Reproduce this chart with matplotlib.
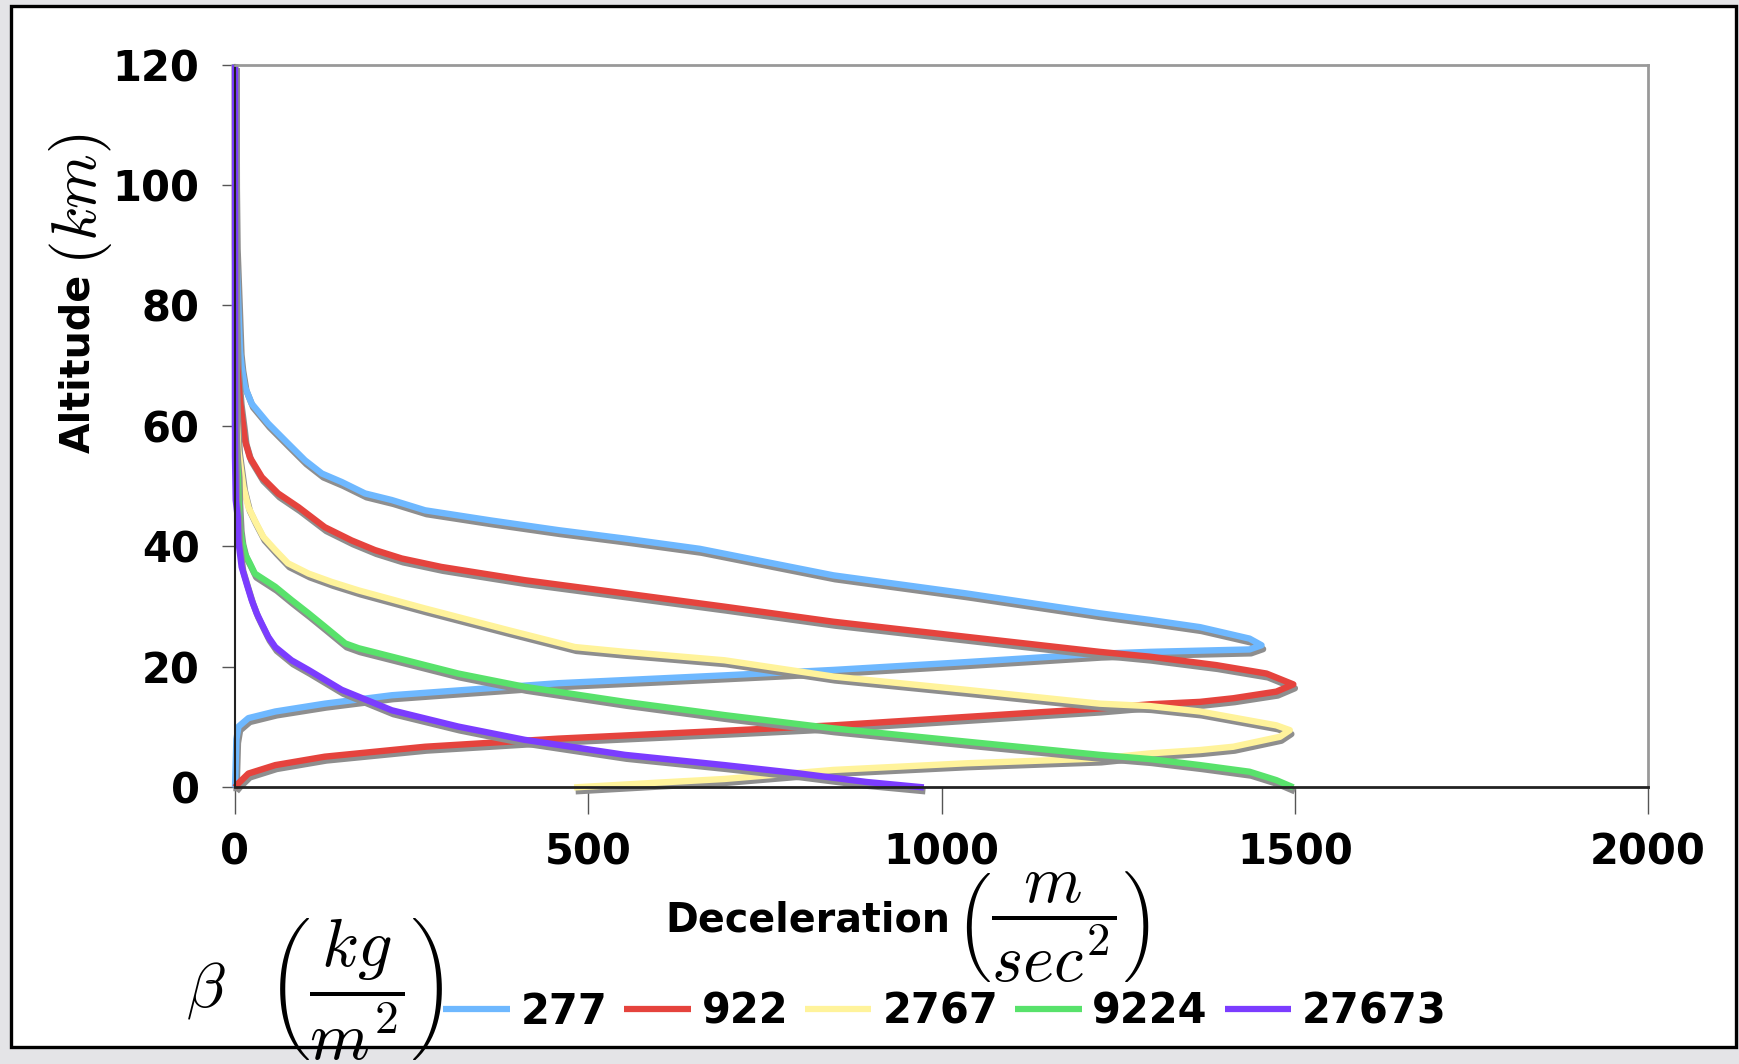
import matplotlib
matplotlib.use("Agg")
import matplotlib.pyplot as plt
import matplotlib.patheffects as pe
from matplotlib.patches import Rectangle

plt.rcParams['mathtext.fontset'] = 'cm'
plt.rcParams['font.family'] = ['DejaVu Sans']

# ---------------- data (deceleration m/s^2, altitude km) ----------------
labels = ["277", "922", "2767", "9224", "27673"]
colors = ["#6EB8FF", "#E5433D", "#FFF39B", "#58E26B", "#7B3CFF"]

dec_277 = [0, 0.5, 1.5, 4.7, 7, 9.4, 14, 23.6, 47, 75, 99, 123, 151, 184, 222, 269, 363,
           458, 552, 658, 847, 1035, 1224, 1295, 1366, 1436, 1453, 1436, 1366, 1295, 1224,
           1035, 847, 693, 458, 222, 127, 57, 19, 5, 2, 1, 0]
alt_277 = [120, 100, 90, 80, 72.5, 69.8, 66.5, 63.7, 60.4, 57.1, 54.3, 52.1, 50.7, 48.8,
           47.7, 46.0, 44.3, 42.7, 41.3, 39.6, 35.2, 32.2, 28.9, 27.8, 26.6, 24.7, 23.6,
           22.9, 22.7, 22.5, 22.2, 20.8, 19.5, 18.6, 17.3, 15.3, 13.9, 12.6, 11.5, 10.1,
           8, 4, 0]

dec_922 = [0, 0, 1, 3, 7, 11.8, 14, 21, 38, 61, 90, 127, 165, 198, 236, 292, 410, 552, 693,
           847, 1035, 1224, 1295, 1389, 1460, 1498, 1474, 1413, 1366, 1295, 1224, 1035, 847,
           693, 458, 269, 127, 57, 19, 5, 0]
alt_922 = [120, 90, 78, 70, 64.2, 59.8, 57.6, 54.8, 51.5, 48.8, 46.5, 43.2, 41.0, 39.4, 38.0,
           36.6, 34.4, 32.2, 30.0, 27.5, 25.0, 22.5, 21.7, 20.3, 18.9, 17.1, 15.9, 14.8,
           14.2, 13.8, 13.1, 11.7, 10.3, 9.4, 8.1, 6.75, 5.1, 3.7, 2.3, 0.7, 0]

dec_2767 = [0, 0, 2, 4.7, 11.8, 19, 28, 40, 57, 75, 104, 137, 175, 269, 387, 481, 552, 693,
            847, 1035, 1224, 1295, 1366, 1474, 1493, 1479, 1413, 1366, 1295, 1224, 1035, 847,
            693, 600, 480]
alt_2767 = [120, 70, 62, 56.0, 49.9, 46.5, 44.3, 41.6, 39.4, 37.2, 35.5, 34.1, 32.7, 29.7,
            26.1, 23.3, 22.5, 21.1, 18.4, 16.2, 13.9, 13.5, 12.6, 10.3, 9.5, 8.4, 6.75, 6.2,
            5.65, 4.8, 4.0, 2.9, 1.4, 0.8, 0]

dec_9224 = [0, 0, 2, 4, 5, 7, 9.4, 14, 21, 28, 57, 80, 104, 127, 156, 175, 222, 316, 410,
            552, 693, 847, 1035, 1224, 1295, 1366, 1436, 1474, 1498]
alt_9224 = [120, 60, 55, 52.1, 47.7, 43.2, 41.0, 38.8, 37.2, 35.5, 33.3, 31.1, 28.9, 26.7,
            23.9, 23.1, 21.7, 18.9, 16.7, 14.2, 12.0, 9.8, 7.6, 5.4, 4.7, 3.7, 2.6, 1.2, 0]

dec_27673 = [0, 0, 1, 3.8, 4.7, 9.4, 16.5, 23.6, 30.7, 37.7, 47, 57, 80, 104, 151, 222, 316,
             410, 552, 693, 800, 894, 975]
alt_27673 = [120, 55, 47.7, 44.9, 41.0, 36.6, 33.8, 31.1, 28.9, 27.2, 25.0, 23.3, 21.1, 19.5,
             16.2, 12.8, 10.1, 7.9, 5.4, 3.7, 2.3, 0.9, 0]

series = [(dec_277, alt_277), (dec_922, alt_922), (dec_2767, alt_2767),
          (dec_9224, alt_9224), (dec_27673, alt_27673)]

xticks = [0, 500, 1000, 1500, 2000]
yticks = [0, 20, 40, 60, 80, 100, 120]

# ---------------- figure ----------------
W, H = 1739, 1064
fig = plt.figure(figsize=(W / 100, H / 100), dpi=100)
fig.patch.set_facecolor("#E4E4E7")

frame = Rectangle((11 / W, 1 - 1047 / H), (1736 - 11) / W, (1047 - 6) / H,
                  transform=fig.transFigure, facecolor="white", edgecolor="black",
                  linewidth=2.4, zorder=-5)
fig.add_artist(frame)

ax = fig.add_axes([235 / W, 1 - 787.4 / H, (1648 - 235) / W, (787.4 - 64.5) / H])
ax.set_facecolor("white")

shadow = [pe.SimpleLineShadow(offset=(1.1, -2.8), shadow_color="#8E8E8E", alpha=1.0),
          pe.Normal()]
for (d, a), c, lab in zip(series, colors, labels):
    ax.plot(d, a, color=c, lw=4.6, label=lab, clip_on=False,
            solid_capstyle="butt", solid_joinstyle="round", path_effects=shadow)

ax.set_xlim(0, 2000)
ax.set_ylim(0, 120)
ax.set_xticks(xticks)
ax.set_yticks(yticks)
ax.set_xticklabels([str(t) for t in xticks], fontsize=30, fontweight="bold")
ax.set_yticklabels([str(t) for t in yticks], fontsize=30, fontweight="bold")
ax.tick_params(axis="x", length=19.5, width=1.0, color="#555555", pad=12)
ax.tick_params(axis="y", length=9.5, width=1.0, color="#555555", pad=16)

ax.spines["left"].set_color("#222222")
ax.spines["left"].set_linewidth(1.5)
ax.spines["bottom"].set_color("#222222")
ax.spines["bottom"].set_linewidth(2.0)
for s in ("top", "right"):
    ax.spines[s].set_color("#999999")
    ax.spines[s].set_linewidth(2.0)

# axis labels
fig.text(78 / W, 1 - 363 / H, "Altitude", rotation=90, fontsize=28.5, fontweight="bold",
         ha="center", va="center")
fig.text(80 / W, 1 - 199 / H, r"$(km)$", rotation=90, fontsize=45,
         ha="center", va="center")

fig.text(950 / W, 1 - 921 / H, "Deceleration", fontsize=28.5, fontweight="bold",
         ha="right", va="center")
fig.text(955 / W, 1 - 926 / H, r"$\left(\dfrac{m}{sec^2}\right)$", fontsize=48,
         ha="left", va="center")

# legend title-like label
fig.text(206 / W, 1 - 990 / H, r"$\beta$", fontsize=46, ha="center", va="center")
fig.text(355 / W, 1 - 990 / H, r"$\left(\dfrac{kg}{m^2}\right)$", fontsize=49,
         ha="center", va="center")

leg = fig.legend(loc="center left", bbox_to_anchor=(443 / W, 1 - 1012 / H), ncol=5,
                 frameon=False, prop={"size": 30, "weight": "bold"},
                 handlelength=1.6, handletextpad=0.26, columnspacing=0.4,
                 borderpad=0, borderaxespad=0)
for ln in leg.get_lines():
    ln.set_path_effects([])
    ln.set_linewidth(4.5)

fig.savefig("out.png", dpi=100, facecolor=fig.get_facecolor())
